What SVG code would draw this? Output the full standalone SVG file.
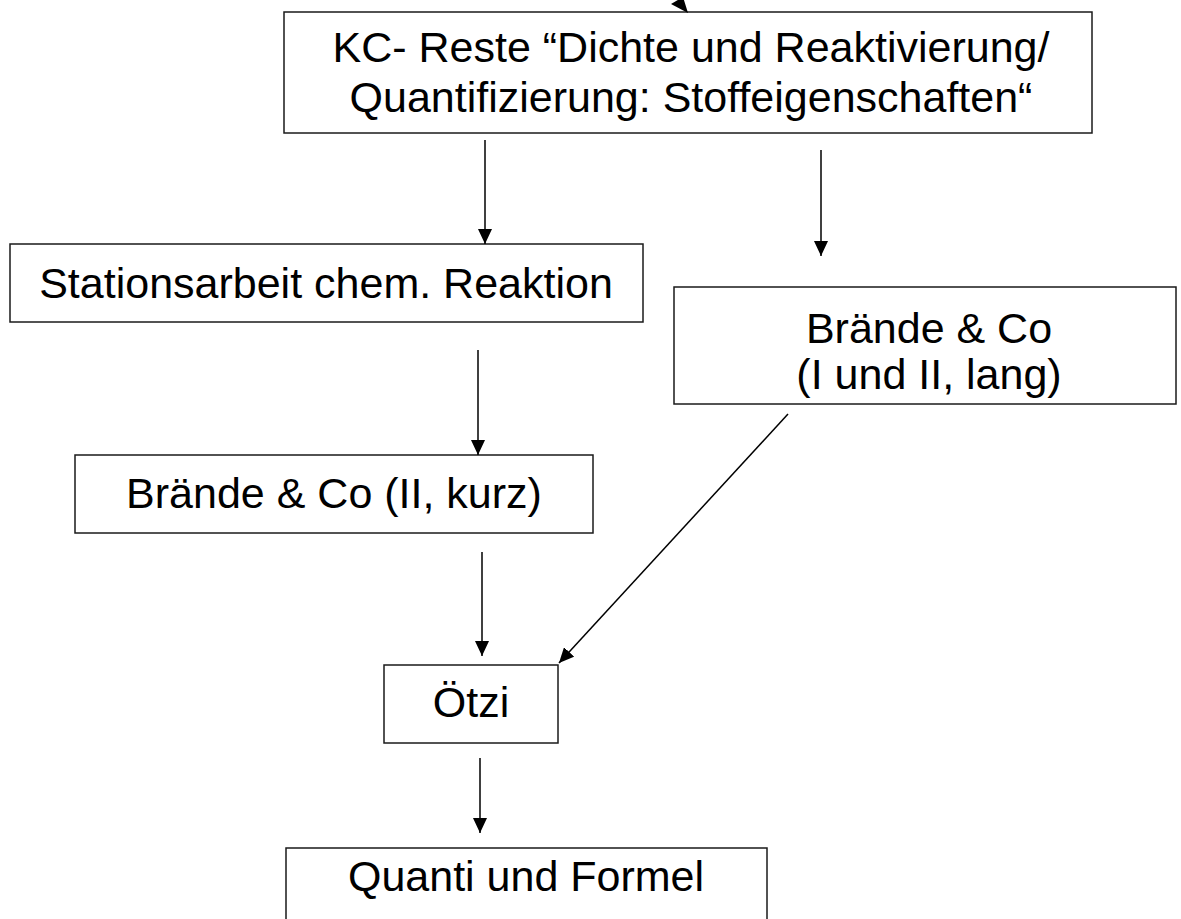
<svg xmlns="http://www.w3.org/2000/svg" width="1181" height="919" viewBox="0 0 1181 919">
<style>
.box{fill:#fff;stroke:#1a1a1a;stroke-width:1.5}
.t{font-family:"Liberation Sans",Arial,sans-serif;font-size:43px;fill:#000;text-anchor:middle}
.c{stroke:#000;stroke-width:1.5;fill:none}
</style>
<defs>
<marker id="ah" markerUnits="userSpaceOnUse" markerWidth="16" markerHeight="14" refX="15" refY="7" orient="auto">
<path d="M0,0 L15,7 L0,14 z" fill="#000"/>
</marker>
</defs>
<rect width="1181" height="919" fill="#fff"/>
<g id="n1">
<rect class="box" x="284" y="12" width="808" height="121"/>
<text class="t" x="691" y="62">KC- Reste “Dichte und Reaktivierung/</text>
<text class="t" x="691" y="112">Quantifizierung: Stoffeigenschaften“</text>
</g>
<g id="n2">
<rect class="box" x="10" y="244" width="633" height="78"/>
<text class="t" x="326" y="298">Stationsarbeit chem. Reaktion</text>
</g>
<g id="n3">
<rect class="box" x="674" y="287" width="502" height="117"/>
<text class="t" x="929" y="343">Brände &amp; Co</text>
<text class="t" x="929" y="389">(I und II, lang)</text>
</g>
<g id="n4">
<rect class="box" x="75" y="455" width="518" height="78"/>
<text class="t" x="334" y="508">Brände &amp; Co (II, kurz)</text>
</g>
<g id="n5">
<rect class="box" x="384" y="665" width="174" height="78"/>
<text class="t" x="471" y="717">Ötzi</text>
</g>
<g id="n6">
<rect class="box" x="286" y="848" width="481" height="90"/>
<text class="t" x="526" y="891">Quanti und Formel</text>
</g>
<g id="connectors">
<line class="c" x1="674" y1="-10" x2="682" y2="4"/>
<polygon points="688,13 683,-3 671,4" fill="#000"/>
<line class="c" x1="485" y1="140" x2="485" y2="244" marker-end="url(#ah)"/>
<line class="c" x1="821" y1="150" x2="821" y2="256" marker-end="url(#ah)"/>
<line class="c" x1="478" y1="350" x2="478" y2="455" marker-end="url(#ah)"/>
<line class="c" x1="482" y1="552" x2="482" y2="656" marker-end="url(#ah)"/>
<line class="c" x1="788" y1="414" x2="559" y2="663" marker-end="url(#ah)"/>
<line class="c" x1="480" y1="758" x2="480" y2="833" marker-end="url(#ah)"/>
</g>
</svg>
